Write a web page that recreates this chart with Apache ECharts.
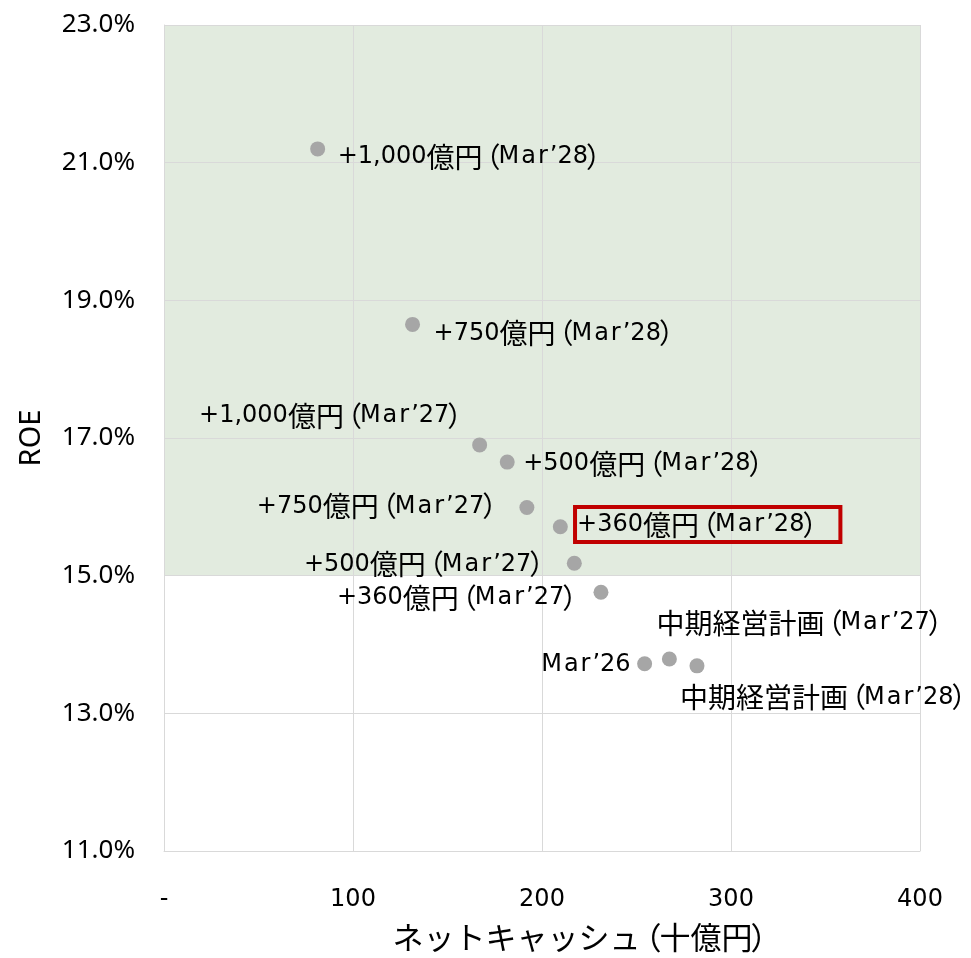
<!DOCTYPE html>
<html><head><meta charset="utf-8">
<script src="https://cdn.jsdelivr.net/npm/echarts@6/dist/echarts.min.js"></script>
<style>html,body{margin:0;padding:0;background:#fff}#c{width:971px;height:958px}</style>
</head><body><div id="c"></div>
<script>
// ---- data ----
const pointNames = ['+1,000億円（Mar’28）', '+750億円（Mar’28）', '+1,000億円（Mar’27）', '+500億円（Mar’28）',
  '+750億円（Mar’27）', '+360億円（Mar’28）', '+500億円（Mar’27）', '+360億円（Mar’27）',
  'Mar’26', '中期経営計画（Mar’27）', '中期経営計画（Mar’28）'];
const netCash = [81.3, 131.5, 167.0, 181.6, 192.0, 209.7, 217.1, 231.2, 254.3, 267.4, 282.0];
const roe = [21.20, 18.65, 16.90, 16.65, 15.99, 15.71, 15.18, 14.76, 13.72, 13.79, 13.69];
const xTickValues = [0, 100, 200, 300, 400];
const xTickLabels = ['-', '100', '200', '300', '400'];
const yTickValues = [11, 13, 15, 17, 19, 21, 23];
const roeTarget = 15;              // shaded band above this ROE
const highlightedName = '+360億円（Mar’28）';
const xTitle = 'ネットキャッシュ（十億円）';
const yTitle = 'ROE';

// ---- label placement (style only) ----
const placement = [
  {side: 'right', dx: 20, dy: 8},
  {side: 'right', dx: 21, dy: 9},
  {side: 'left', dx: -19.3, dy: -29},
  {side: 'right', dx: 16, dy: 2},
  {side: 'left', dx: -31.7, dy: -1},
  {side: 'right', dx: 14.7, dy: -2.4},
  {side: 'left', dx: -32, dy: 1},
  {side: 'left', dx: -25.7, dy: 6},
  {side: 'left', dx: -14, dy: 1},
  {side: 'right', dx: -13, dy: -36},
  {side: 'right', dx: -17, dy: 32}
];

const GREEN = '#e2ebdf';
const GRID = '#d9d9d9';
const TXT = '#000000';
const R = 7.5; // symbol radius

function toRich(s, sfx) {
  sfx = sfx || '';
  let out = '', cur = '', type = null;
  const flush = () => { if (cur) out += '{' + type + sfx + '|' + cur + '}'; cur = ''; };
  for (const ch of s) {
    let t, single = false;
    if (ch === '（') { t = 'po'; single = true; }
    else if (ch === '）') { t = 'pc'; single = true; }
    else if (/[A-Za-z]/.test(ch)) { t = 'a'; single = true; }
    else t = ch.charCodeAt(0) >= 0x3000 ? 'j' : 'l';
    if (t !== type || single) flush();
    type = t; cur += ch;
  }
  flush();
  return out;
}
const CJK = {fontFamily: 'Noto Sans CJK JP', fontSize: 28, color: TXT};
const LAT = {fontFamily: 'DejaVu Sans', fontSize: 24, color: TXT};
const rich = {
  j: CJK,
  po: Object.assign({}, CJK, {padding: [0, -2, 0, -10]}),
  pc: Object.assign({}, CJK, {padding: [0, -15, 0, -2]}),
  l: LAT,
  a: Object.assign({}, LAT, {padding: [0, 2, 0, 0]})
};
const CJKT = {fontFamily: 'Noto Sans CJK JP', fontSize: 31, color: TXT};
const titleRich = {
  jT: CJKT,
  poT: Object.assign({}, CJKT, {padding: [0, -2, 0, -10]}),
  pcT: Object.assign({}, CJKT, {padding: [0, -16, 0, -2]})
};

const areaColors = [];
for (let i = 0; i < yTickValues.length - 1; i++) {
  areaColors.push(yTickValues[i] >= roeTarget ? GREEN : '#ffffff');
}

const data = netCash.map((x, i) => {
  const p = placement[i];
  const label = {
    show: true,
    formatter: toRich(pointNames[i]),
    position: [p.dx + R, p.dy + R],
    align: p.side === 'left' ? 'right' : 'left',
    verticalAlign: 'middle',
    rich: rich
  };
  if (pointNames[i] === highlightedName) {
    Object.assign(label, {borderColor: '#c00000', borderWidth: 4, padding: [4, 25, 3, 2]});
  }
  return {value: [x, roe[i]], name: pointNames[i], label: label};
});

const chart = echarts.init(document.getElementById('c'), null, {renderer: 'canvas'});
chart.setOption({
  animation: false,
  backgroundColor: '#ffffff',
  grid: {left: 164, right: 51, top: 25, bottom: 105, containLabel: false},
  xAxis: {
    type: 'value',
    min: xTickValues[0], max: xTickValues[xTickValues.length - 1],
    interval: xTickValues[1] - xTickValues[0],
    axisLine: {show: true, lineStyle: {color: GRID, width: 1}},
    axisTick: {show: false},
    splitLine: {show: true, lineStyle: {color: GRID, width: 1}},
    axisLabel: {
      formatter: v => xTickLabels[xTickValues.indexOf(v)],
      fontFamily: 'DejaVu Sans', fontSize: 24, color: TXT, margin: 37
    },
    name: toRich(xTitle, 'T'), nameLocation: 'middle', nameGap: 71,
    nameTextStyle: {color: TXT, padding: [0, 0, 0, 74], rich: titleRich}
  },
  yAxis: {
    type: 'value',
    min: yTickValues[0], max: yTickValues[yTickValues.length - 1],
    interval: yTickValues[1] - yTickValues[0],
    axisLine: {show: true, lineStyle: {color: GRID, width: 1}},
    axisTick: {show: false},
    splitLine: {show: true, lineStyle: {color: GRID, width: 1}},
    splitArea: {show: true, areaStyle: {color: areaColors}},
    axisLabel: {
      formatter: v => v.toFixed(1) + '%',
      fontFamily: 'Noto Sans', fontSize: 26, color: TXT, margin: 29
    },
    name: yTitle, nameLocation: 'middle', nameGap: 118,
    nameTextStyle: {fontFamily: 'Noto Sans', fontSize: 29, color: TXT}
  },
  series: [{
    type: 'scatter',
    symbol: 'circle',
    symbolSize: 2 * R,
    itemStyle: {color: '#a6a6a6', opacity: 1},
    data: data
  }]
});
</script>
</body></html>
